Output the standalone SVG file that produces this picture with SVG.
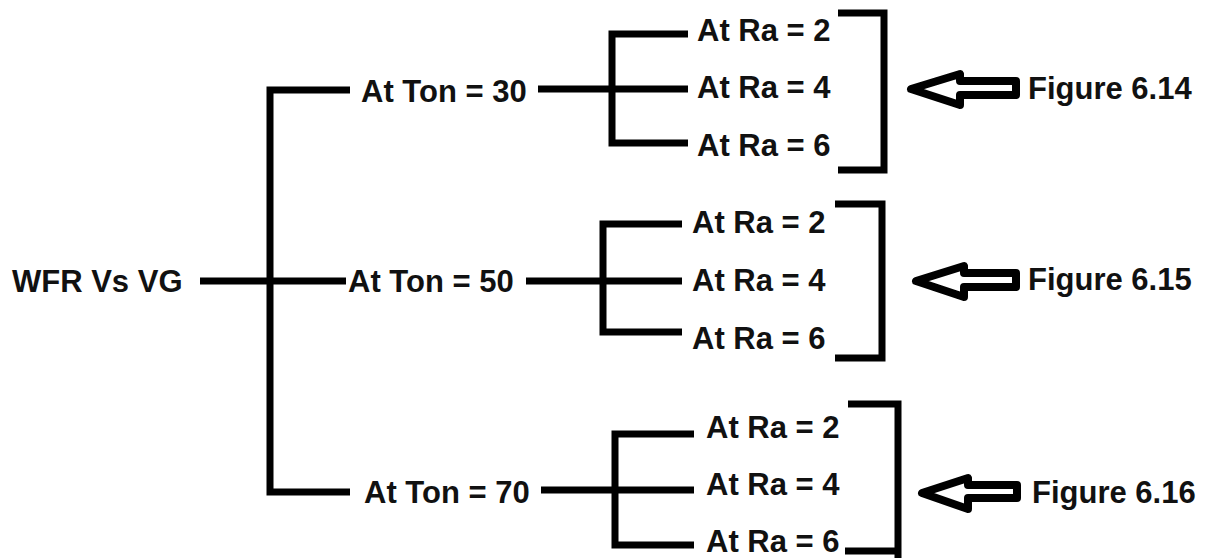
<svg xmlns="http://www.w3.org/2000/svg" width="1220" height="558" viewBox="0 0 1220 558">
  <style>
    .t { font-family: "Liberation Sans", Arial, sans-serif; font-weight: bold; font-size: 31px; fill: #111; }
    .ln { stroke: #000; stroke-width: 7; fill: none; stroke-linecap: butt; stroke-linejoin: miter; }
    .br { stroke: #000; stroke-width: 7; fill: none; stroke-linecap: butt; stroke-linejoin: miter; }
    .ar { stroke: #000; stroke-width: 8; fill: #fff; stroke-linejoin: round; }
  </style>
  <rect width="1220" height="558" fill="#fff"/>

  <g id="connectors">
    <!-- root to trunk -->
    <path class="ln" d="M200 281 H346"/>
    <path class="ln" d="M350 90 H270 V492 H350"/>
    <!-- Ton 30 sub tree -->
    <path class="ln" d="M538 89 H688"/>
    <path class="ln" d="M688 34 H612 V143 H688"/>
    <!-- Ton 50 sub tree -->
    <path class="ln" d="M526 281 H682"/>
    <path class="ln" d="M682 224 H603 V332 H682"/>
    <!-- Ton 70 sub tree -->
    <path class="ln" d="M541 490 H694"/>
    <path class="ln" d="M694 434 H615 V545 H694"/>
    <!-- big brackets -->
    <path class="br" d="M838 13 H884 V170 H838"/>
    <path class="br" d="M835 204 H882 V358 H835"/>
    <path class="br" d="M848 404 H898 V558"/>
    <path class="br" d="M845 551 H898"/>
    <!-- hollow arrows -->
    <polygon class="ar" points="911,89 960,74 960,81 1016,81 1016,95 960,95 960,105"/>
    <polygon class="ar" points="916,281 964,266 964,273 1016,273 1016,287 964,287 964,297"/>
    <polygon class="ar" points="922,493 968,478 968,485 1017,485 1017,498 968,498 968,509"/>
  </g>

  <g id="root"><text class="t" x="12" y="292">WFR Vs VG</text></g>

  <g id="ton30"><text class="t" x="361" y="102">At Ton = 30</text></g>
  <g id="ton50"><text class="t" x="348" y="292">At Ton = 50</text></g>
  <g id="ton70"><text class="t" x="364" y="503">At Ton = 70</text></g>

  <g id="ra30-2"><text class="t" x="697" y="41">At Ra = 2</text></g>
  <g id="ra30-4"><text class="t" x="697" y="98">At Ra = 4</text></g>
  <g id="ra30-6"><text class="t" x="697" y="156">At Ra = 6</text></g>

  <g id="ra50-2"><text class="t" x="692" y="233">At Ra = 2</text></g>
  <g id="ra50-4"><text class="t" x="692" y="291">At Ra = 4</text></g>
  <g id="ra50-6"><text class="t" x="692" y="349">At Ra = 6</text></g>

  <g id="ra70-2"><text class="t" x="706" y="438">At Ra = 2</text></g>
  <g id="ra70-4"><text class="t" x="706" y="495">At Ra = 4</text></g>
  <g id="ra70-6"><text class="t" x="706" y="552">At Ra = 6</text></g>

  <g id="fig614"><text class="t" x="1028" y="99">Figure 6.14</text></g>
  <g id="fig615"><text class="t" x="1028" y="290">Figure 6.15</text></g>
  <g id="fig616"><text class="t" x="1032" y="503">Figure 6.16</text></g>
</svg>
